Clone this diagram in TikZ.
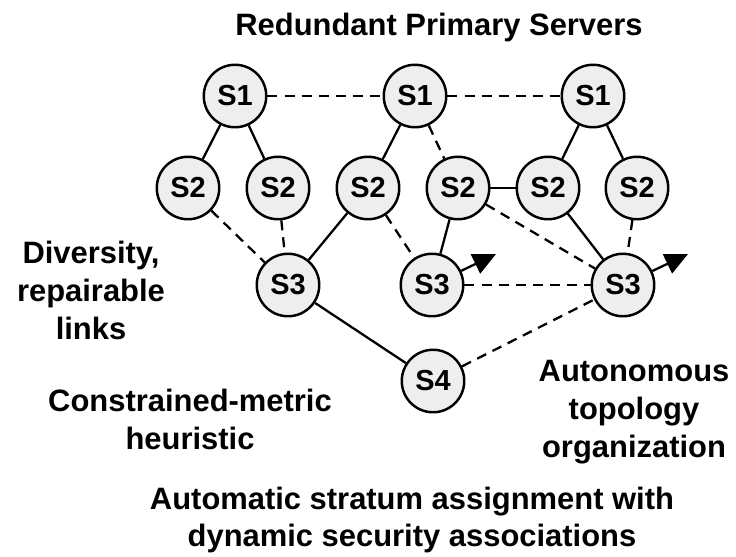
\documentclass[tikz,border=0pt]{standalone}
\usepackage{fontspec}
\setmainfont{Liberation Sans}
\usetikzlibrary{arrows.meta}
\definecolor{srvgray}{HTML}{EEEEEE}

\begin{document}
\begin{tikzpicture}[line join=round,x=0.02cm,y=-0.02cm,
  srv/.style={circle,draw,line width=1.4pt,fill=srvgray,minimum size=1.25cm,inner sep=0pt,
    font=\fontsize{16.5}{19}\selectfont\bfseries},
  lbl/.style={align=center,inner sep=0pt,font=\fontsize{17.6}{21.6}\selectfont\bfseries},
  link/.style={line width=1.3pt},
  weak/.style={line width=1.3pt,dash pattern=on 5.7pt off 4pt},
  drift/.style={line width=1.3pt,-{Triangle[length=13pt,width=12pt]}}]
\useasboundingbox (0,0) rectangle (736,556);
% stratum 1
\node[srv] (s1a) at (235,96) {S1};
\node[srv] (s1b) at (415,96) {S1};
\node[srv] (s1c) at (593,96) {S1};
% stratum 2
\node[srv] (s2a) at (188,188) {S2};
\node[srv] (s2b) at (278,188) {S2};
\node[srv] (s2c) at (368,188) {S2};
\node[srv] (s2d) at (458,188) {S2};
\node[srv] (s2e) at (548,188) {S2};
\node[srv] (s2f) at (637,188) {S2};
% stratum 3 and 4
\node[srv] (s3a) at (288,285) {S3};
\node[srv] (s3b) at (432,285) {S3};
\node[srv] (s3c) at (623,285) {S3};
\node[srv] (s4) at (433,381) {S4};
\coordinate (mvb) at (496,254);
\coordinate (mvc) at (688,254);
% solid links
\draw[link] (s1a) -- (s2a);
\draw[link] (s1a) -- (s2b);
\draw[link] (s1b) -- (s2c);
\draw[link] (s1c) -- (s2e);
\draw[link] (s1c) -- (s2f);
\draw[link] (s2c) -- (s3a);
\draw[link] (s2d) -- (s2e);
\draw[link] (s2d) -- (s3b);
\draw[link] (s2e) -- (s3c);
\draw[link] (s3a) -- (s4);
% backup links
\draw[weak] (s1a) -- (s1b);
\draw[weak] (s1b) -- (s1c);
\draw[weak] (s1b) -- (s2d);
\draw[weak] (s2a) -- (s3a);
\draw[weak] (s2b) -- (s3a);
\draw[weak] (s2c) -- (s3b);
\draw[weak] (s2d) -- (s3c);
\draw[weak] (s2f) -- (s3c);
\draw[weak] (s3b) -- (s3c);
\draw[weak] (s4) -- (s3c);
% moving servers
\draw[drift] (s3b) -- (mvb);
\draw[drift] (s3c) -- (mvc);
% captions
\node[lbl] (ttl) at (439,27) {Redundant Primary Servers};
\node[lbl] (div) at (91,290) {Diversity,\\repairable\\links};
\node[lbl] (cmh) at (190,419) {Constrained-metric\\heuristic};
\node[lbl] (ato) at (634,412) {Autonomous\\topology\\organization};
\node[lbl] (asa) at (412,520) {Automatic stratum assignment with\\dynamic security associations};
\end{tikzpicture}
\end{document}
